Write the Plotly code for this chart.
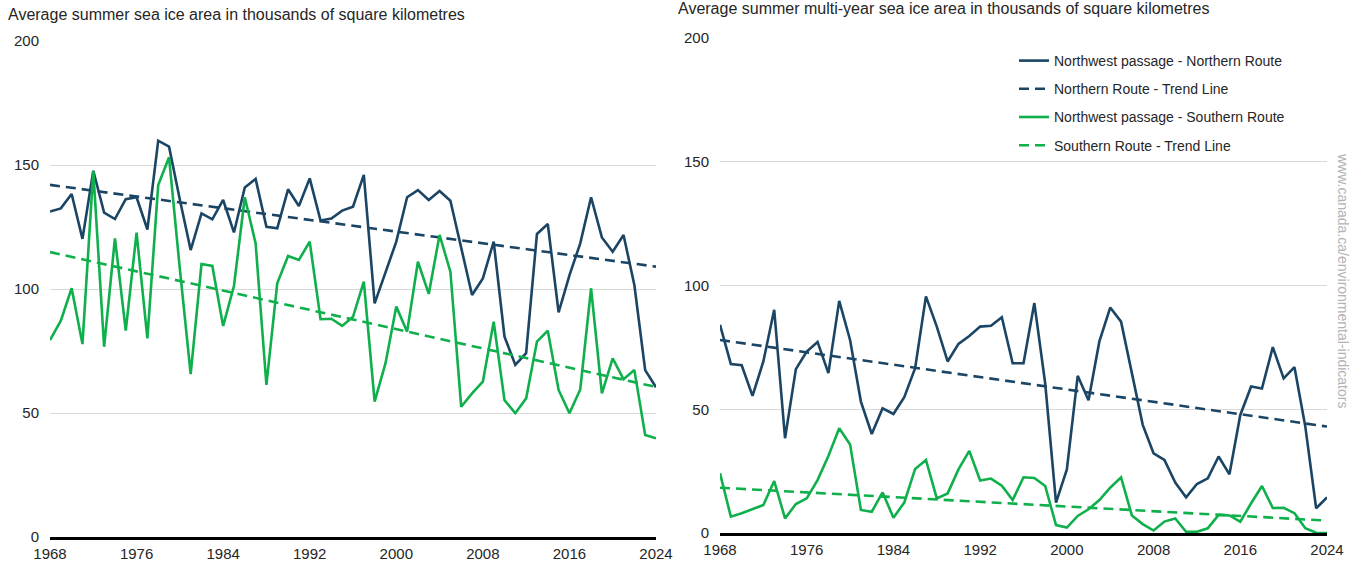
import plotly.graph_objects as go

years = list(range(1968, 2025))

# Left: average summer sea ice area (thousand km2)
north_total = [131.2, 132.5, 138.3, 120.2, 147.7, 130.8, 128.2, 136.2, 137.0, 124.0,
               159.8, 157.4, 136.0, 115.7, 130.5, 128.1, 135.9, 122.8, 140.9, 144.4,
               125.1, 124.5, 140.2, 133.5, 144.6, 127.6, 128.4, 131.6, 133.2, 146.0,
               94.2, 106.7, 119.1, 137.0, 139.9, 135.9, 139.5, 135.6, 117.0, 97.6,
               104.3, 119.1, 80.8, 69.4, 74.1, 122.2, 126.2, 90.6, 105.5, 118.4,
               137.0, 120.8, 115.0, 121.8, 101.6, 67.3, 60.4]
south_total = [79.4, 87.2, 100.3, 77.8, 147.5, 76.7, 120.4, 83.2, 122.7, 80.1,
               141.9, 153.1, 108.0, 65.7, 110.1, 109.3, 85.1, 101.2, 137.0, 118.4,
               61.3, 102.3, 113.3, 111.7, 119.1, 87.8, 88.0, 85.1, 88.8, 103.0,
               54.6, 70.0, 92.9, 82.8, 111.0, 98.0, 121.8, 107.0, 52.5, 57.9,
               62.6, 86.8, 55.2, 49.9, 55.9, 78.8, 83.2, 59.3, 49.9, 59.5,
               100.3, 57.9, 72.0, 63.6, 67.3, 41.1, 39.8]

# Right: average summer multi-year sea ice area (thousand km2)
north_multi = [84.1, 68.3, 67.8, 55.4, 69.3, 90.2, 38.3, 66.2, 73.3, 77.2,
               64.6, 93.8, 78.0, 53.1, 40.0, 50.4, 48.1, 54.9, 66.6, 95.6,
               83.4, 69.3, 76.4, 79.6, 83.4, 83.7, 87.2, 68.6, 68.6, 92.9,
               60.5, 12.3, 25.7, 63.5, 53.6, 77.4, 91.1, 85.4, 64.6, 43.7,
               32.2, 29.5, 20.4, 14.4, 19.8, 22.1, 30.9, 23.7, 47.7, 59.2,
               58.4, 75.1, 62.5, 67.0, 43.0, 10.0, 14.4]
south_multi = [24.1, 6.6, 8.0, 9.6, 11.3, 21.0, 5.9, 11.7, 14.0, 21.4,
               31.1, 42.3, 35.8, 9.3, 8.6, 16.4, 6.2, 12.3, 25.9, 29.5,
               14.0, 16.0, 25.7, 33.2, 21.2, 22.0, 19.1, 13.3, 22.5, 22.2,
               19.0, 3.2, 2.2, 6.9, 9.6, 13.3, 18.3, 22.5, 7.1, 3.6,
               1.0, 4.6, 5.9, 0.5, 0.5, 1.9, 7.3, 7.1, 4.6, 12.0,
               19.0, 10.1, 10.2, 8.0, 1.9, 0.1, 0.0]

trend_years = [1968, 2024]
trend_north_total = [142.0, 109.0]
trend_south_total = [114.9, 60.5]
trend_north_multi = [78.0, 43.0]
trend_south_multi = [18.3, 5.0]

x_ticks = [1968, 1976, 1984, 1992, 2000, 2008, 2016, 2024]
y_ticks = [0, 50, 100, 150, 200]

NAVY = "#1b4565"
GREEN = "#0fb04c"
DASH = "10px,6px"
FONT = "Liberation Sans, Arial, sans-serif"

fig = go.Figure()

def add_panel(xa, ya, north, south, tn, ts, legend):
    fig.add_trace(go.Scatter(x=years, y=north, mode="lines", xaxis=xa, yaxis=ya,
                             line=dict(color=NAVY, width=2.6),
                             name="Northwest passage - Northern Route",
                             showlegend=legend, legendgroup="a"))
    fig.add_trace(go.Scatter(x=trend_years, y=tn, mode="lines", xaxis=xa, yaxis=ya,
                             line=dict(color=NAVY, width=2.6, dash=DASH),
                             name="Northern Route - Trend Line",
                             showlegend=legend, legendgroup="b"))
    fig.add_trace(go.Scatter(x=years, y=south, mode="lines", xaxis=xa, yaxis=ya,
                             line=dict(color=GREEN, width=2.6),
                             name="Northwest passage - Southern Route",
                             showlegend=legend, legendgroup="c"))
    fig.add_trace(go.Scatter(x=trend_years, y=ts, mode="lines", xaxis=xa, yaxis=ya,
                             line=dict(color=GREEN, width=2.6, dash=DASH),
                             name="Southern Route - Trend Line",
                             showlegend=legend, legendgroup="d"))

add_panel("x", "y", north_total, south_total, trend_north_total, trend_south_total, False)
add_panel("x2", "y2", north_multi, south_multi, trend_north_multi, trend_south_multi, True)

W, H = 1361, 569


def px(X):
    return X / W


def py(Y):
    return 1 - Y / H


xcommon = dict(range=[1968, 2024], tickvals=x_ticks, showgrid=False, zeroline=False,
               showline=True, linecolor="black", linewidth=3, automargin=False,
               tickfont=dict(family=FONT, size=15, color="#262626"),
               ticks="", ticklabelstandoff=1, fixedrange=True)
ycommon = dict(range=[0, 200], tickvals=y_ticks, showgrid=True, gridcolor="#d9d9d9",
               gridwidth=1, zeroline=False, showline=False, automargin=False,
               tickfont=dict(family=FONT, size=15, color="#262626"),
               ticks="", ticklabelstandoff=10, fixedrange=True)

fig.update_layout(
    width=W, height=H,
    margin=dict(l=0, r=0, t=0, b=0, autoexpand=False),
    paper_bgcolor="white", plot_bgcolor="white",
    font=dict(family=FONT, color="#262626"),
    xaxis=dict(domain=[px(50), px(656)], anchor="y", **xcommon),
    yaxis=dict(domain=[py(537), py(41)], anchor="x", **ycommon),
    xaxis2=dict(domain=[px(720), px(1327)], anchor="y2", **xcommon),
    yaxis2=dict(domain=[py(533), py(38)], anchor="x2", **ycommon),
    legend=dict(x=px(1014), y=py(45), xanchor="left", yanchor="top",
                bgcolor="rgba(0,0,0,0)", traceorder="grouped", tracegroupgap=7,
                font=dict(family=FONT, size=14, color="#262626")),
    showlegend=True,
)

fig.add_annotation(text="Average summer sea ice area in thousands of square kilometres",
                   xref="paper", yref="paper", x=px(6), y=py(14),
                   xanchor="left", yanchor="middle", showarrow=False,
                   font=dict(family=FONT, size=16, color="#262626"))
fig.add_annotation(text="Average summer multi-year sea ice area in thousands of square kilometres",
                   xref="paper", yref="paper", x=px(676), y=py(9),
                   xanchor="left", yanchor="middle", showarrow=False,
                   font=dict(family=FONT, size=16, color="#262626"))
fig.add_annotation(text="www.canada.ca/environmental-indicators",
                   xref="paper", yref="paper", x=px(1343), y=py(280),
                   xanchor="center", yanchor="middle", showarrow=False, textangle=90,
                   font=dict(family=FONT, size=14, color="#b3b3b3"))

# remove the default 8px page margin so the figure fills the window exactly
fig.write_html("out.html", config={"displayModeBar": False},
               post_script="document.body.style.margin='0';document.body.style.overflow='hidden';")
